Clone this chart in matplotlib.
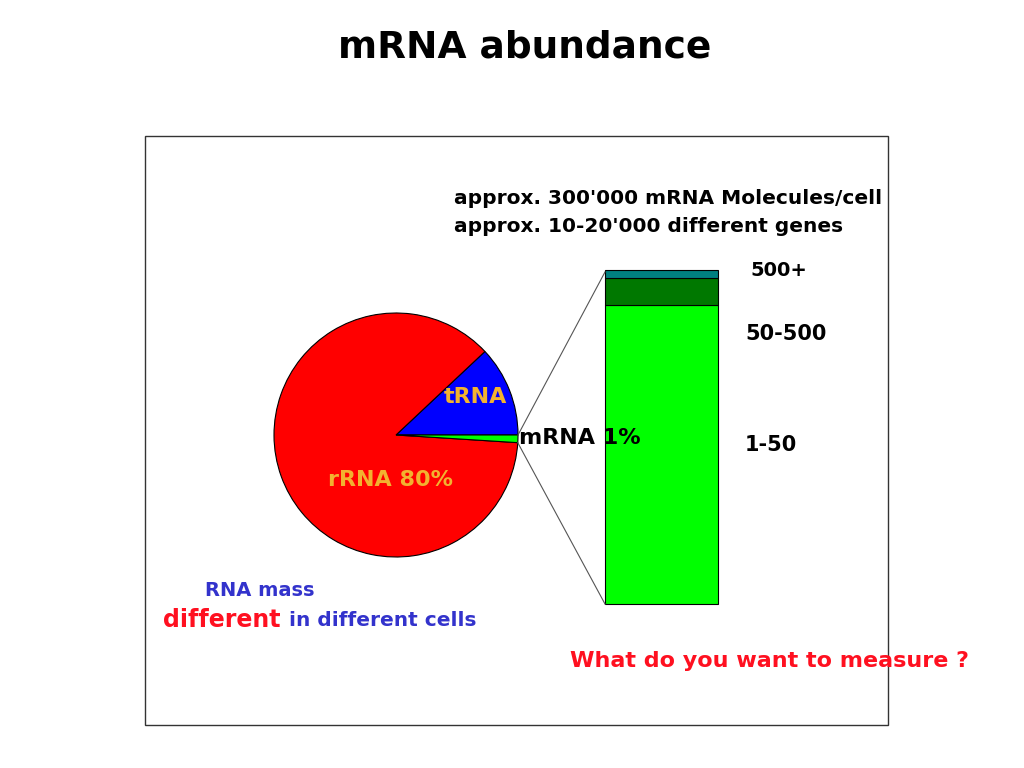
"""mRNA abundance slide: RNA mass pie with an exploded mRNA class bar."""

import numpy as np
import matplotlib

matplotlib.use("Agg")
import matplotlib.pyplot as plt
from matplotlib.patches import Rectangle

# --- Data ---
pie_labels = ["tRNA", "rRNA", "mRNA"]
pie_values = [12, 87, 1]
pie_colors = ["#0000FF", "#FF0000", "#00FF00"]

bar_classes = ["1-50", "50-500", "500+"]
bar_values = [89.5, 8.0, 2.5]
bar_colors = ["#00FF00", "#007800", "#008080"]

W, H = 1024, 768


def py(y):
    """Convert a pixel row (top = 0) to axes data y."""
    return H - y


fig = plt.figure(figsize=(W / 100, H / 100), dpi=100)
ax = fig.add_axes([0, 0, 1, 1])
ax.set_xlim(0, W)
ax.set_ylim(0, H)
ax.set_aspect("equal")
ax.axis("off")

# --- Frame ---
ax.add_patch(Rectangle((145, py(725)), 743, 589, fill=False,
                       edgecolor="#333333", linewidth=1.0))

# --- Pie ---
center = (396, py(435))
radius = 122
ax.pie(pie_values, colors=pie_colors, startangle=0, counterclock=True,
       center=center, radius=radius, frame=True,
       wedgeprops=dict(edgecolor="black", linewidth=0.8))
ax.set_xlim(0, W)
ax.set_ylim(0, H)
ax.axis("off")

# --- Stacked bar ---
bar_x, bar_w = 605, 113
bar_bottom, bar_h = py(604), 334
scale = bar_h / sum(bar_values)
bottom = bar_bottom
for val, col in zip(bar_values, bar_colors):
    ax.bar(bar_x, val * scale, width=bar_w, bottom=bottom, align="edge",
           color=col, edgecolor="black", linewidth=0.8)
    bottom += val * scale

# --- Connecting lines from the mRNA slice to the bar ---
frac = np.cumsum([0] + pie_values) / sum(pie_values) * 360
a_top = np.radians(360)
a_bot = np.radians(frac[2])
x0 = center[0] + radius * np.cos(a_top)
y0 = center[1] + radius * np.sin(a_top)
x1 = center[0] + radius * np.cos(a_bot)
y1 = center[1] + radius * np.sin(a_bot)
ax.plot([x0, bar_x], [y0, bar_bottom + bar_h - 2], color="#555555", lw=0.8)
ax.plot([x1, bar_x], [y1, bar_bottom], color="#555555", lw=0.8)

# --- Texts ---
gold = "#F2B230"
blue = "#3333CC"
red = "#FF1020"
ax.text(W / 2 + 13, py(48), "mRNA abundance", ha="center", va="center",
        fontsize=27, fontweight="bold")
ax.text(454, py(198), "approx. 300'000 mRNA Molecules/cell", ha="left",
        va="center", fontsize=14.5, fontweight="bold")
ax.text(454, py(226), "approx. 10-20'000 different genes", ha="left",
        va="center", fontsize=14.5, fontweight="bold")

ax.text(750, py(270), bar_classes[2], ha="left", va="center",
        fontsize=14, fontweight="bold")
ax.text(745, py(334), bar_classes[1], ha="left", va="center",
        fontsize=15, fontweight="bold")
ax.text(745, py(445), bar_classes[0], ha="left", va="center",
        fontsize=15, fontweight="bold")

ax.text(475, py(397), pie_labels[0], ha="center", va="center",
        fontsize=16, fontweight="bold", color=gold)
ax.text(391, py(480), f"{pie_labels[1]} 80%", ha="center", va="center",
        fontsize=16, fontweight="bold", color=gold)
ax.text(519, py(438), f"{pie_labels[2]} 1%", ha="left", va="center",
        fontsize=16, fontweight="bold", color="black")

ax.text(260, py(591), "RNA mass", ha="center", va="center",
        fontsize=14, fontweight="bold", color=blue)
ax.text(163, py(620), "different", ha="left", va="center",
        fontsize=17, fontweight="bold", color=red)
ax.text(289, py(621), "in different cells", ha="left", va="center",
        fontsize=14.5, fontweight="bold", color=blue)

ax.text(770, py(661), "What do you want to measure ?", ha="center",
        va="center", fontsize=16, fontweight="bold", color=red)

fig.savefig("out.png", dpi=100)
